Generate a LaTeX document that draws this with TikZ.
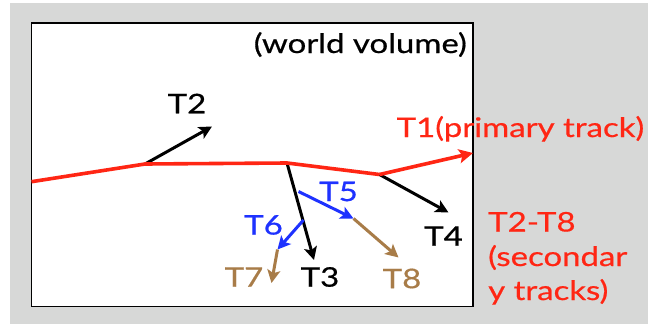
\documentclass[tikz,border=0pt]{standalone}
\usepackage{fontspec}
\setmainfont{Lato}[FakeStretch=1.22,FakeBold=0.6]
\usetikzlibrary{arrows.meta}
\definecolor{trkred}{RGB}{255,38,20}
\definecolor{trkblue}{RGB}{30,50,255}
\definecolor{trkbrown}{RGB}{168,124,72}
\definecolor{panel}{RGB}{215,216,215}
\begin{document}
\begin{tikzpicture}[x=1pt,y=-1pt,
  tip/.style={-{Stealth[length=13pt,width=13pt,inset=3pt]}},
  sec/.style={tip,line width=3pt},
  prim/.style={line width=3.6pt,trkred},
  lbl/.style={inner sep=0pt,font=\fontsize{27}{27}\selectfont},
  note/.style={lbl,trkred,anchor=base west}]
  \useasboundingbox (0,0) rectangle (648,324);
  \fill[white] (0,0) rectangle (648,324);
  \fill[panel] (10,3) rectangle (648,324);
  % world volume
  \draw[line width=1.5pt,fill=white] (31.5,23) rectangle (473,306.5);
  \node[lbl,anchor=base east] (world) at (467,53) {(world volume)};
  % vertices along the primary track
  \coordinate (p0) at (31.5,181.7);
  \coordinate (v1) at (145,164);
  \coordinate (v2) at (287,163);
  \coordinate (v3) at (379.5,174.5);
  \coordinate (p1) at (473,153);
  % secondary vertices and ends
  \coordinate (e2) at (212,126.5);
  \coordinate (e3) at (314,260);
  \coordinate (e4) at (448.5,212.5);
  \coordinate (s5) at (298.5,191.5);
  \coordinate (e5) at (353.5,218.5);
  \coordinate (e8) at (398.5,257.5);
  \coordinate (s6) at (303.5,220);
  \coordinate (e6) at (277.5,249.5);
  \coordinate (e7) at (271.5,283);
  % secondary tracks
  \draw[sec] (v1) -- (e2);
  \draw[sec] (v2) -- (e3);
  \draw[sec] (v3) -- (e4);
  \draw[sec,trkbrown] (e5) -- (e8);
  \draw[sec,trkbrown] (e6) -- (e7);
  \draw[sec,trkblue] (s5) -- (e5);
  \draw[sec,trkblue] (s6) -- (e6);
  % primary track
  \draw[prim,line join=round] (p0) -- (v1) -- (v2) -- (v3);
  \draw[prim,-{Stealth[length=14pt,width=14pt,inset=3pt]}] (v3) -- (p1);
  % labels
  \node[lbl] (t2) at (187,103.5) {T2};
  \node[lbl] (t3) at (320,277) {T3};
  \node[lbl] (t4) at (443.5,236) {T4};
  \node[lbl,trkblue] (t5) at (338.5,191.5) {T5};
  \node[lbl,trkblue] (t6) at (263.5,225) {T6};
  \node[lbl,trkbrown] (t7) at (244,277) {T7};
  \node[lbl,trkbrown] (t8) at (402,278.5) {T8};
  \node[note] (t1) at (396.5,137) {T1(primary track)};
  \node[note] (secA) at (488,231.5) {T2-T8};
  \node[note] (secB) at (488,266) {(secondar};
  \node[note] (secC) at (488,300) {y tracks)};
\end{tikzpicture}
\end{document}
